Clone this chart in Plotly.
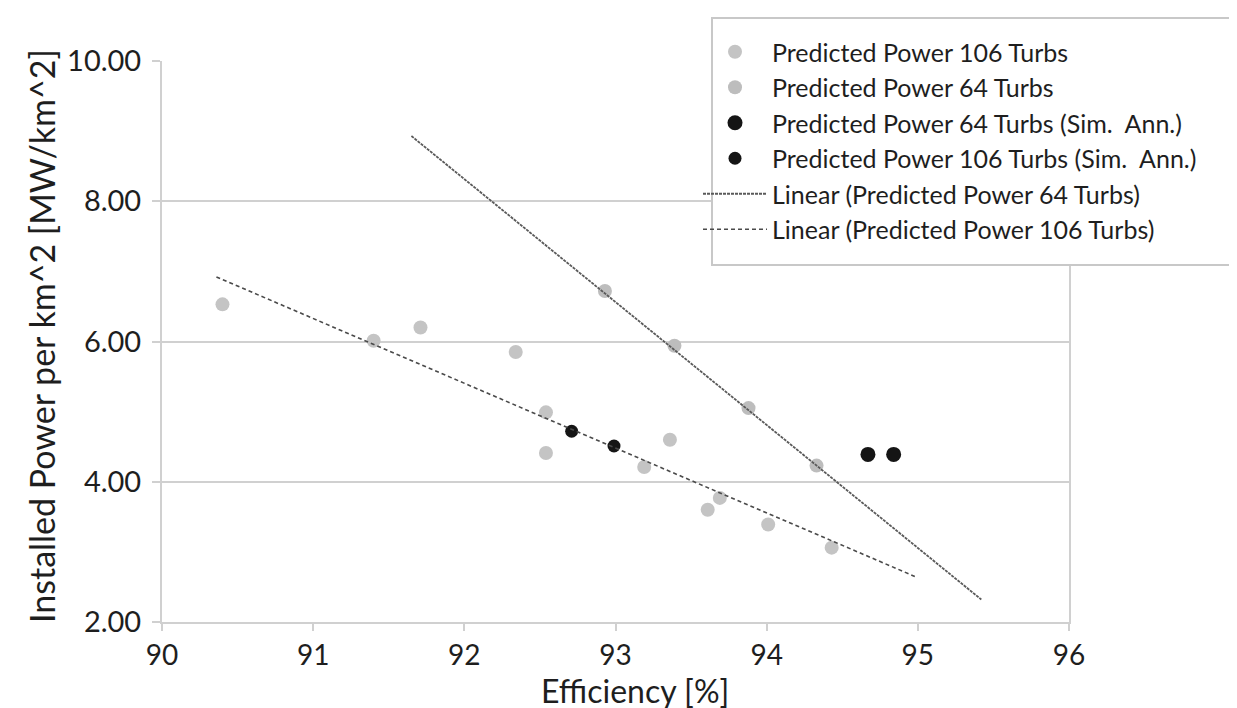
import plotly.graph_objects as go

# ---- data ----
eff_106 = [90.40, 91.40, 91.71, 92.34, 92.54, 92.54, 93.19, 93.36, 93.61, 93.69, 94.01, 94.43]
pow_106 = [6.53, 6.01, 6.20, 5.85, 4.99, 4.41, 4.21, 4.60, 3.60, 3.77, 3.39, 3.06]

eff_64 = [92.93, 93.39, 93.88, 94.33]
pow_64 = [6.72, 5.94, 5.05, 4.23]

eff_64_sa = [94.67, 94.84]
pow_64_sa = [4.39, 4.39]

eff_106_sa = [92.71, 92.99]
pow_106_sa = [4.72, 4.51]

trend_64_x = [91.65, 95.42]
trend_64_y = [8.93, 2.32]

trend_106_x = [90.36, 94.98]
trend_106_y = [6.92, 2.65]

x_ticks = [90, 91, 92, 93, 94, 95, 96]
y_ticks = [2, 4, 6, 8, 10]

x_title = "Efficiency [%]"
y_title = "Installed Power per km^2 [MW/km^2]"

FONT = "Lato"
GRID = "#d0d0d0"
TXT = "#1e1e1e"

W, H = 1237, 708
L, R, T, B = 154, 176, 53, 94
PW, PH = W - L - R, H - T - B


def px_x(p):  # container pixel -> paper x
    return (p - L) / PW


def px_y(p):  # container pixel -> paper y
    return (H - B - p) / PH


fig = go.Figure()
fig.add_trace(go.Scatter(x=eff_106, y=pow_106, mode="markers", name="Predicted Power 106 Turbs",
                         marker=dict(color="#c4c4c4", size=14, symbol="circle")))
fig.add_trace(go.Scatter(x=eff_64, y=pow_64, mode="markers", name="Predicted Power 64 Turbs",
                         marker=dict(color="#bdbdbd", size=14, symbol="circle")))
fig.add_trace(go.Scatter(x=eff_64_sa, y=pow_64_sa, mode="markers", name="Predicted Power 64 Turbs (Sim.  Ann.)",
                         marker=dict(color="#151515", size=15, symbol="circle")))
fig.add_trace(go.Scatter(x=eff_106_sa, y=pow_106_sa, mode="markers", name="Predicted Power 106 Turbs (Sim.  Ann.)",
                         marker=dict(color="#151515", size=13, symbol="circle")))
fig.add_trace(go.Scatter(x=trend_64_x, y=trend_64_y, mode="lines", name="Linear (Predicted Power 64 Turbs)",
                         line=dict(color="#5a5a5a", width=1.8, dash="3px,1px")))
fig.add_trace(go.Scatter(x=trend_106_x, y=trend_106_y, mode="lines", name="Linear (Predicted Power 106 Turbs)",
                         line=dict(color="#4a4a4a", width=1.6, dash="4px,3px")))

# legend frame (white box with grey border)
fig.add_shape(type="rect", xref="paper", yref="paper",
              x0=px_x(704), x1=px_x(1224), y0=px_y(257), y1=px_y(10),
              fillcolor="white", line=dict(color="#c8c8c8", width=2), layer="above")

fig.add_annotation(text=x_title, xref="paper", yref="paper", x=px_x(627), y=0,
                   xanchor="center", yanchor="middle", yshift=-68, showarrow=False,
                   font=dict(family=FONT, size=32, color=TXT))
fig.add_annotation(text=y_title, xref="paper", yref="paper", x=px_x(33), y=px_y(328),
                   xanchor="center", yanchor="middle", textangle=-90, showarrow=False,
                   font=dict(family=FONT, size=34, color=TXT))

fig.update_layout(
    width=W, height=H,
    margin=dict(l=L, r=R, t=T, b=B, autoexpand=False),
    paper_bgcolor="white", plot_bgcolor="white",
    font=dict(family=FONT, color=TXT),
    showlegend=True,
    legend=dict(
        xref="container", yref="container",
        x=690/W, y=1-21/H, xanchor="left", yanchor="top",
        bgcolor="rgba(0,0,0,0)", borderwidth=0,
        font=dict(family=FONT, size=25, color=TXT),
        itemwidth=64,
    ),
    xaxis=dict(
        range=[90, 96], tickvals=x_ticks, ticktext=[str(v) for v in x_ticks],
        showgrid=False, zeroline=False,
        showline=True, linecolor=GRID, linewidth=2,
        ticks="outside", ticklen=7, tickwidth=2, tickcolor=GRID,
        tickfont=dict(family=FONT, size=28, color=TXT),
    ),
    yaxis=dict(
        range=[2, 10], tickvals=y_ticks, ticktext=[f"{v:.2f}" for v in y_ticks],
        showgrid=True, gridcolor=GRID, gridwidth=2, zeroline=False,
        showline=True, linecolor=GRID, linewidth=2, mirror=True,
        ticks="outside", ticklen=8, tickwidth=2, tickcolor=GRID, ticklabelstandoff=5,
        tickfont=dict(family=FONT, size=29, color=TXT),
    ),
)

fig.write_html("out.html")
